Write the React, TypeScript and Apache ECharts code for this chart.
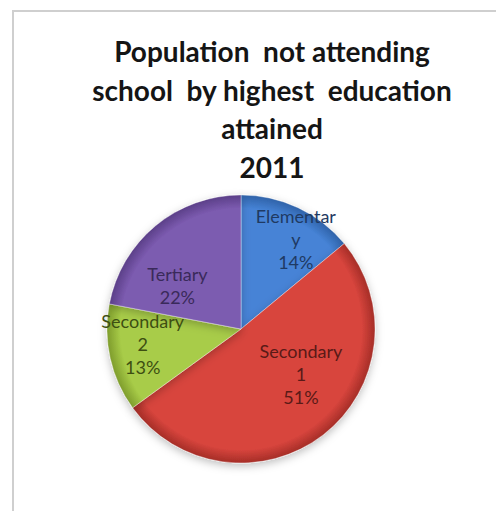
import React, { useEffect, useRef } from "react";
import * as echarts from "echarts";

const titleLines = ["Population  not attending", "school  by highest  education", "attained", "2011"];
const categories = ["Elementary", "Secondary 1", "Secondary 2", "Tertiary"];
const shares = [14, 51, 13, 22];
const labelTexts = ["Elementar\ny", "Secondary\n1", "Secondary\n2", "Tertiary"];

const sliceColors = ["#4683d6", "#d8453d", "#a8cc48", "#7c5bb0"];
const sliceEdge = ["#2f62a8", "#a52d27", "#7e9c2c", "#5b3f88"];
const labelColors = ["#1f3a63", "#5a1a17", "#3d4f12", "#3a2a5a"];
const labelShift: number[][] = [
  [25, -27],
  [17, -10],
  [-30, 0],
  [-19, 10],
];

const CX = 241;
const CY = 329;
const R = 134;

export default function App() {
  const ref = useRef<HTMLDivElement>(null);
  useEffect(() => {
    if (!ref.current) return;
    const chart = echarts.init(ref.current, undefined, { renderer: "svg" });
    chart.setOption({
      animation: false,
      backgroundColor: "#ffffff",
      title: {
        text: titleLines.join("\n"),
        left: 272,
        top: 32,
        padding: 0,
        textAlign: "center",
        textStyle: {
          fontFamily: "Lato",
          fontWeight: "bold",
          fontSize: 28,
          lineHeight: 38.5,
          color: "#151515",
        },
      },
      graphic: [
        {
          type: "rect",
          shape: { x: 13, y: 11, width: 520, height: 540 },
          style: { fill: "none", stroke: "#cfcfcf", lineWidth: 2 },
          silent: true,
        },
      ],
      series: [
        {
          type: "pie",
          center: [CX, CY],
          radius: R,
          startAngle: 90,
          clockwise: true,
          data: categories.map((name, i) => ({
            name,
            value: shares[i],
            itemStyle: {
              color: {
                type: "radial",
                x: CX,
                y: CY,
                r: R,
                global: true,
                colorStops: [
                  { offset: 0, color: sliceColors[i] },
                  { offset: 0.9, color: sliceColors[i] },
                  { offset: 1, color: sliceEdge[i] },
                ],
              },
            },
            label: { color: labelColors[i] },
          })),
          itemStyle: {
            borderColor: "rgba(255,255,255,0.35)",
            borderWidth: 1,
            shadowBlur: 8,
            shadowColor: "rgba(0,0,0,0.25)",
            shadowOffsetY: 3,
          },
          label: {
            show: true,
            position: "inside",
            fontFamily: "Lato",
            fontSize: 18,
            lineHeight: 23,
            align: "center",
            formatter: (p: any) => `${labelTexts[p.dataIndex]}\n${p.value}%`,
          },
          labelLayout: (params: any) => ({
            dx: labelShift[params.dataIndex][0],
            dy: labelShift[params.dataIndex][1],
          }),
          labelLine: { show: false },
          emphasis: { disabled: true },
        },
      ],
    });
    return () => chart.dispose();
  }, []);
  return (
    <div
      ref={ref}
      style={{ position: "fixed", left: 0, top: 0, width: 496, height: 511 }}
    />
  );
}
